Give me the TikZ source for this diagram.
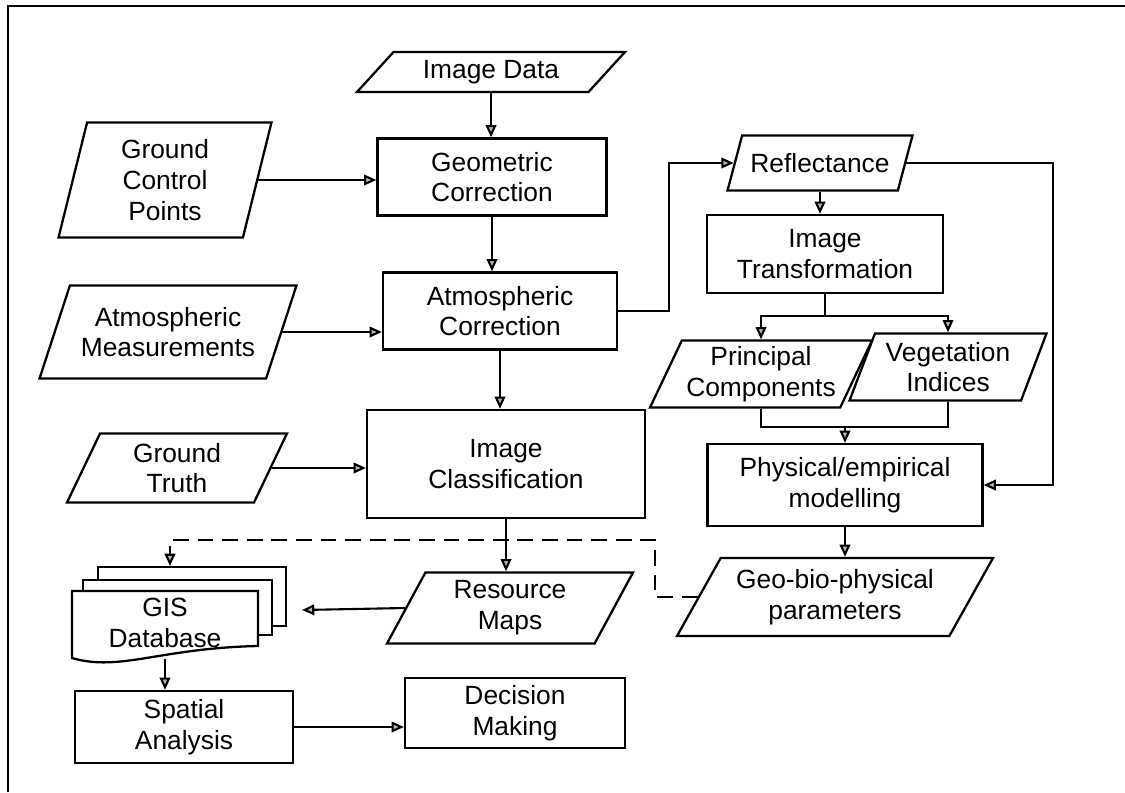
\documentclass[tikz,border=0pt]{standalone}
\usepackage{fontspec}
\setmainfont{Liberation Sans}
\usetikzlibrary{shapes.geometric,arrows.meta,calc}
\tikzset{>={Triangle[length=7pt,width=6pt,fill=gray!55]}}
\tikzset{
  process/.style={draw, line width=1.3pt, fill=white, align=center, inner sep=2pt,
    font=\fontsize{15}{17.5}\selectfont},
  data/.style={process, trapezium, trapezium left angle=#1,
    trapezium right angle={180-#1}, trapezium stretches body},
  data/.default=62,
  sheet/.style={line width=1.3pt, fill=white},
  flow/.style={->, line width=1.2pt},
  feed/.style={flow, dash pattern=on 9pt off 5pt},
}

\begin{document}
\begin{tikzpicture}[x=0.02cm, y=-0.02cm]
  \useasboundingbox (0,0) rectangle (1125,792);
  \draw[line width=1.5pt] (8,792) -- (8,6) -- (1125,6);

  % main chain
  \node[data=40, minimum width=5.36cm, minimum height=0.8cm] (imgdata) at (491,72) {Image Data};
  \node[process, minimum width=4.58cm, minimum height=1.54cm] (geocorr) at (492,177) {Geometric\\Correction};
  \node[process, minimum width=4.68cm, minimum height=1.54cm] (atmcorr) at (500,311) {Atmospheric\\Correction};
  \node[process, minimum width=5.56cm, minimum height=2.16cm] (imgclass) at (506,464) {Image\\Classification};
  \node[data=58, minimum width=4.92cm, minimum height=1.42cm] (resmaps) at (510,608) {Resource\\Maps};

  % side inputs
  \node[data=72, minimum width=4.26cm, minimum height=2.3cm] (gcp) at (165,180) {Ground\\Control\\Points};
  \node[data=62, minimum width=5.14cm, minimum height=1.86cm] (atmmeas) at (168,332) {Atmospheric\\Measurements};
  \node[data=60, minimum width=4.4cm, minimum height=1.38cm] (gtruth) at (177,468) {Ground\\Truth};

  % reflectance branch
  \node[data=61, minimum width=3.7cm, minimum height=1.1cm] (refl) at (820,163) {Reflectance};
  \node[process, minimum width=4.72cm, minimum height=1.56cm] (imgtrans) at (825,254) {Image\\Transformation};
  \node[data=63, minimum width=4.44cm, minimum height=1.34cm] (pc) at (761,374) {Principal\\Components};
  \node[data=66, minimum width=3.94cm, minimum height=1.34cm] (vi) at (948,367) {Vegetation\\Indices};
  \node[process, minimum width=5.5cm, minimum height=1.64cm] (phys) at (845,485) {Physical/empirical\\modelling};
  \node[data=55, minimum width=6.32cm, minimum height=1.56cm] (geobio) at (835,597) {Geo-bio-physical\\parameters};

  % GIS stack
  \draw[sheet] (98,580) -- (98,567) -- (286,567) -- (286,626) -- (272,626);
  \draw[sheet] (83,591) -- (83,580) -- (272,580) -- (272,635) -- (258,635);
  \draw[sheet] (72,591) -- (258,591) -- (258,646) .. controls (160,648) and (120,672) .. (72,658) -- cycle;
  \node[align=center, font=\fontsize{15}{17.5}\selectfont, minimum width=3.72cm, minimum height=1.44cm]
    (gis) at (165,623) {GIS\\Database};
  \node[process, minimum width=4.36cm, minimum height=1.44cm] (spatial) at (184,727) {Spatial\\Analysis};
  \node[process, minimum width=4.4cm, minimum height=1.4cm] (decision) at (515,713) {Decision\\Making};

  \coordinate (fbk) at (1053,155);
  \coordinate (dashcorner) at (655,540);
  \coordinate (gistop) at (170,566);
  \coordinate (gistip) at (302,610);

  % connectors
  \draw[flow] (imgdata.south) -- (imgdata.south |- geocorr.north);
  \draw[flow] (gcp.east) -- (gcp.east -| geocorr.west);
  \draw[flow] (geocorr.south) -- (geocorr.south |- atmcorr.north);
  \draw[flow] (atmmeas.east) -- (atmmeas.east -| atmcorr.west);
  \draw[flow] (atmcorr.south) -- (atmcorr.south |- imgclass.north);
  \draw[flow] (gtruth.east) -- (gtruth.east -| imgclass.west);
  \draw[flow] (imgclass.south) -- (imgclass.south |- resmaps.north);
  \draw[flow] (resmaps.west) -- (gistip);
  \draw[flow] (gis.south) -- (gis.south |- spatial.north);
  \draw[flow] (spatial.east) -- (spatial.east -| decision.west);

  \draw[flow] (atmcorr.east) -- ++(51,0) |- (refl.west);
  \draw[flow] (refl.east) -- (refl.east -| fbk) |- (phys.east);
  \draw[flow] (refl.south) -- (refl.south |- imgtrans.north);
  \draw[flow] (imgtrans.south) -- ++(0,22) -| (pc.north);
  \draw[flow] (imgtrans.south) -- ++(0,22) -| (vi.north);
  \draw[line width=1.2pt] (pc.south) -- ++(0,18) coordinate (merge) -| (vi.south);
  \draw[flow] (merge -| phys.north) -- (phys.north);
  \draw[flow] (phys.south) -- (phys.south |- geobio.north);
  \draw[feed] (geobio.west) -| (dashcorner) -- (dashcorner -| gistop) -- (gistop);
\end{tikzpicture}
\end{document}
